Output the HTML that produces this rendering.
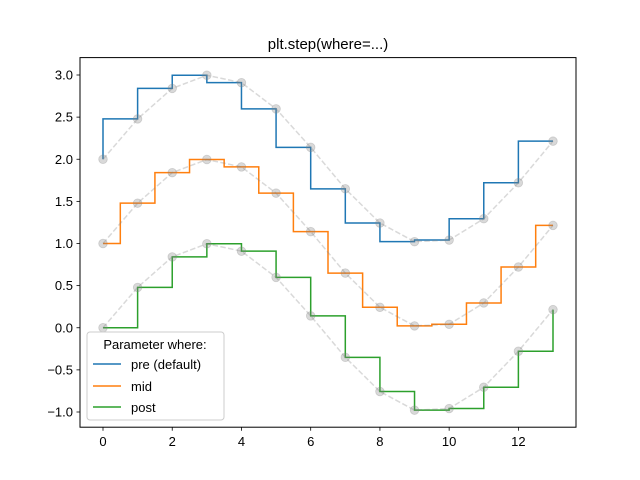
<!DOCTYPE html>
<html><head><meta charset="utf-8"><style>
body{margin:0;background:#fff;}
svg{display:block;font-family:"Liberation Sans","DejaVu Sans",sans-serif;}
</style></head><body>
<svg id="chart" width="640" height="480" viewBox="0 0 640 480">
<rect x="0" y="0" width="640" height="480" fill="#fff"/>
<text x="328" y="49" text-anchor="middle" font-size="15">plt.step(where=...)</text>
<g id="plot"></g>
<rect x="80" y="57.6" width="496" height="369.6" fill="none" stroke="#000" stroke-width="1"/>
<g id="axes"></g>
<g>
<rect x="87" y="332" width="137" height="88" rx="3" fill="#fff" fill-opacity="0.8" stroke="#ccc"/>
<text x="155" y="349" text-anchor="middle" font-size="13">Parameter where:</text>
<line x1="93" y1="364" x2="121" y2="364" stroke="#1f77b4" stroke-width="1.5"/>
<text x="131" y="369" font-size="13">pre (default)</text>
<line x1="93" y1="386" x2="121" y2="386" stroke="#ff7f0e" stroke-width="1.5"/>
<text x="131" y="391" font-size="13">mid</text>
<line x1="93" y1="407" x2="121" y2="407" stroke="#2ca02c" stroke-width="1.5"/>
<text x="131" y="412" font-size="13">post</text>
</g>
</svg>
<script>
const xValues = [0,1,2,3,4,5,6,7,8,9,10,11,12,13];
const baseValues = [0, 0.479, 0.841, 0.997, 0.909, 0.598, 0.141, -0.351, -0.757, -0.978, -0.959, -0.706, -0.279, 0.215];
const preOffset = 2;
const midOffset = 1;
const postOffset = 0;
const xTicks = [0,2,4,6,8,10,12];
const yTicks = [-1.0,-0.5,0.0,0.5,1.0,1.5,2.0,2.5,3.0];

const NS = "http://www.w3.org/2000/svg";
function sx(v){ return 103 + v * (450/13); }
function sy(v){ return 412 - (v + 1) * (337/4); }
function mk(tag, attrs, parent){ const e = document.createElementNS(NS, tag); for (const k in attrs) e.setAttribute(k, attrs[k]); parent.appendChild(e); return e; }

const plot = document.getElementById('plot');
const axes = document.getElementById('axes');

function stepPath(ys, where){
  let d = 'M' + sx(xValues[0]) + ' ' + sy(ys[0]);
  for (let i = 1; i < xValues.length; i++){
    const x0 = sx(xValues[i-1]), x1 = sx(xValues[i]), y0 = sy(ys[i-1]), y1 = sy(ys[i]);
    if (where === 'pre') d += ' L' + x0 + ' ' + y1 + ' L' + x1 + ' ' + y1;
    else if (where === 'post') d += ' L' + x1 + ' ' + y0 + ' L' + x1 + ' ' + y1;
    else { const xm = (x0 + x1) / 2; d += ' L' + xm + ' ' + y0 + ' L' + xm + ' ' + y1 + ' L' + x1 + ' ' + y1; }
  }
  return d;
}

const series = [
  {off: preOffset, where: 'pre', color: '#1f77b4', name: 'pre'},
  {off: midOffset, where: 'mid', color: '#ff7f0e', name: 'mid'},
  {off: postOffset, where: 'post', color: '#2ca02c', name: 'post'}
];

series.forEach(s => {
  const ys = baseValues.map(v => v + s.off);
  const p = mk('path', {d: stepPath(ys, s.where), fill:'none', stroke: s.color, 'stroke-width':1.5}, plot);
  
  
  const ref = mk('polyline', {points: xValues.map((x,i)=>sx(x)+','+sy(ys[i])).join(' '), fill:'none', stroke:'#808080', 'stroke-opacity':0.3, 'stroke-width':1.5, 'stroke-dasharray':'5.5,2.4'}, plot);
  
  
  xValues.forEach((x,i) => {
    const c = mk('circle', {cx: sx(x), cy: sy(ys[i]), r: 4.3, fill:'#808080', 'fill-opacity':0.3, stroke:'#808080', 'stroke-opacity':0.3, 'stroke-width':0.8}, plot);
    
    
  });
});

xTicks.forEach(t => {
  const l = mk('line', {x1: sx(t), x2: sx(t), y1: 427.2, y2: 430.7, stroke:'#000', 'stroke-width':0.8}, axes);
  
  
  const tx = mk('text', {x: sx(t), y: 446, 'text-anchor':'middle', 'font-size':13}, axes);
  tx.textContent = String(t);
  
  
});
yTicks.forEach(t => {
  const l = mk('line', {x1: 76.5, x2: 80, y1: sy(t), y2: sy(t), stroke:'#000', 'stroke-width':0.8}, axes);
  
  
  const tx = mk('text', {x: 73, y: sy(t) + 4.5, 'text-anchor':'end', 'font-size':13}, axes);
  tx.textContent = (t < 0 ? '\u2212' : '') + Math.abs(t).toFixed(1);
  
  
});
</script>
</body></html>
